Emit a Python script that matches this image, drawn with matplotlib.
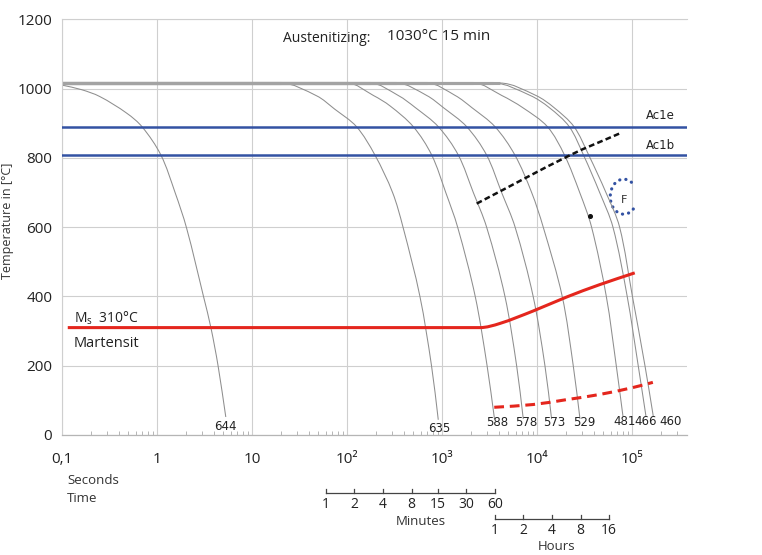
import math
import matplotlib
matplotlib.use("Agg")
import matplotlib.pyplot as plt
from matplotlib.patches import Arc, PathPatch
from matplotlib.path import Path
from matplotlib import transforms
from matplotlib.ticker import FixedLocator, LogLocator, NullFormatter

plt.rcParams['font.family'] = ['Open Sans', 'DejaVu Sans']
plt.rcParams['mathtext.fontset'] = 'custom'
plt.rcParams['mathtext.rm'] = 'Open Sans'
plt.rcParams['mathtext.it'] = 'Open Sans:italic'
plt.rcParams['mathtext.bf'] = 'Open Sans:bold'

# ---------------- data ----------------
curve_labels = ["644", "635", "588", "578", "573", "529", "481", "466", "460"]
PLATEAU_T = 1016

t_644 = [0.1, 0.16, 0.25, 0.48, 0.70, 1.1, 1.55, 2.05, 3.1, 3.7, 4.4, 5.3]
T_644 = [1010, 997, 977, 929, 889, 808, 700, 597, 398, 309, 199, 52]

t_635 = [0.1, 20, 48, 74, 126, 197, 302, 389, 586, 776, 914]
T_635 = [1016, 1016, 979, 941, 890, 808, 700, 600, 400, 200, 44]

t_588 = [0.1, 100, 190, 284, 499, 780, 1096, 1462, 2239, 2985, 3573]
T_588 = [1016, 1016, 980, 950, 890, 808, 700, 600, 400, 200, 46]

t_578 = [0.1, 174, 347, 525, 915, 1486, 2138, 2951, 4603, 6109, 7178]
T_578 = [1016, 1016, 980, 945, 890, 808, 700, 600, 400, 200, 46]

t_573 = [0.1, 331, 692, 1035, 1820, 2951, 4246, 5888, 9120, 12134, 14256]
T_573 = [1016, 1016, 980, 945, 890, 808, 700, 600, 400, 200, 46]

t_529 = [0.1, 692, 1380, 2065, 3614, 5861, 8790, 11641, 18450, 24099, 28379]
T_529 = [1016, 1016, 980, 945, 890, 808, 700, 600, 400, 200, 46]

t_481 = [0.1, 2138, 4266, 7079, 12882, 19498, 28184, 37584, 53703, 68391, 80353]
T_481 = [1016, 1016, 980, 945, 890, 808, 700, 600, 400, 200, 55]

t_466 = [0.1, 3467, 8511, 13490, 21878, 30903, 45709, 63096, 89125, 116413, 140281]
T_466 = [1016, 1016, 980, 945, 890, 808, 700, 600, 400, 200, 55]

t_460 = [0.1, 4074, 9772, 15136, 24547, 35075, 53211, 74131, 101158, 137088, 167494]
T_460 = [1016, 1016, 980, 945, 890, 808, 700, 600, 400, 200, 55]

curve_times = [t_644, t_635, t_588, t_578, t_573, t_529, t_481, t_466, t_460]
curve_temps = [T_644, T_635, T_588, T_578, T_573, T_529, T_481, T_466, T_460]

# label positions under the curve ends
label_t = [5.3, 929, 3790, 7650, 15100, 31300, 83400, 138700, 257000]
label_T = [24, 20, 35, 35, 35, 35, 38, 38, 38]

AC1E = 890
AC1B = 808

ms_t = [0.115, 2510, 4070, 9120, 20400, 45700, 107000]
ms_T = [310, 310, 322, 358, 398, 434, 468]

mf_t = [3550, 9120, 20400, 45700, 102300, 166000]
mf_T = [80, 88, 102, 117, 137, 152]

bainite_t = [2320, 22400, 73500]
bainite_T = [668, 808, 870]

ferrite_t, ferrite_T = 82000, 688
dot_t, dot_T = 36100, 632

xtick_vals = [0.1, 1, 10, 100, 1000, 1e4, 1e5]
xtick_text = ["0,1", "1", "10", "10²", "10³", "10⁴", "10⁵"]
ytick_vals = [0, 200, 400, 600, 800, 1000, 1200]

minutes = [1, 2, 4, 8, 15, 30, 60]
hours = [1, 2, 4, 8, 16]

# ---------------- helpers ----------------
SX, SY = 95.0, 0.3465   # screen-like scaling used only for smooth drawing


def smooth_path(t, T, flat_start=False):
    """Smooth (Bezier) path through the read points, drawn on the log axis."""
    X = [SX * math.log10(v) for v in t]
    Y = [SY * v for v in T]
    n = len(X)
    u = [0.0]
    for i in range(1, n):
        u.append(u[-1] + math.hypot(X[i] - X[i - 1], Y[i] - Y[i - 1]))
    mx, my = [0.0] * n, [0.0] * n
    for i in range(n):
        if flat_start and i <= 1:
            mx[i], my[i] = 1.0, 0.0
        elif i == 0:
            h = u[1] - u[0]
            mx[i], my[i] = (X[1] - X[0]) / h, (Y[1] - Y[0]) / h
        elif i == n - 1:
            h = u[i] - u[i - 1]
            mx[i], my[i] = (X[i] - X[i - 1]) / h, (Y[i] - Y[i - 1]) / h
        else:
            h = u[i + 1] - u[i - 1]
            mx[i], my[i] = (X[i + 1] - X[i - 1]) / h, (Y[i + 1] - Y[i - 1]) / h
    verts = [(X[0], Y[0])]
    codes = [Path.MOVETO]
    for i in range(n - 1):
        if flat_start and i == 0:
            verts.append((X[1], Y[1]))
            codes.append(Path.LINETO)
            continue
        h = u[i + 1] - u[i]
        verts += [(X[i] + mx[i] * h / 3, Y[i] + my[i] * h / 3),
                  (X[i + 1] - mx[i + 1] * h / 3, Y[i + 1] - my[i + 1] * h / 3),
                  (X[i + 1], Y[i + 1])]
        codes += [Path.CURVE4] * 3
    verts = [(10 ** (x / SX), y / SY) for x, y in verts]
    return Path(verts, codes)


def add_smooth(ax, t, T, flat_start=False, **kw):
    p = PathPatch(smooth_path(t, T, flat_start), fill=False, **kw)
    ax.add_patch(p)
    return p


# ---------------- figure ----------------
fig = plt.figure(figsize=(7.62, 5.55), dpi=100)
ax = fig.add_axes([62 / 762, 120 / 555, (686.7 - 62) / 762, (435 - 19.3) / 555])
ax.set_xscale('log')
ax.set_xlim(0.1, 3.77e5)
ax.set_ylim(0, 1200)

grid_c = '#cfcfcf'
ax.xaxis.set_major_locator(FixedLocator(xtick_vals))
ax.xaxis.set_minor_locator(LogLocator(base=10, subs=range(2, 10), numticks=20))
ax.xaxis.set_minor_formatter(NullFormatter())
ax.set_xticks(xtick_vals)
ax.set_xticklabels(xtick_text)
ax.set_yticks(ytick_vals)
ax.grid(True, which='major', color=grid_c, lw=0.8)
ax.set_axisbelow(True)
ax.tick_params(axis='x', which='major', length=0, pad=12, labelsize=11, colors='#222')
ax.tick_params(axis='x', which='minor', length=3, direction='in', color='#aaaaaa', width=0.6)
ax.tick_params(axis='y', which='both', length=0, pad=7, labelsize=11, colors='#222')
for s in ['left', 'top']:
    ax.spines[s].set_color(grid_c)
    ax.spines[s].set_linewidth(0.8)
ax.spines['right'].set_visible(False)
ax.spines['bottom'].set_color('#b5b5b5')
ax.spines['bottom'].set_linewidth(0.9)

# cooling curves
gray = '#8e8e8e'
for t, T in zip(curve_times, curve_temps):
    flat = (T[0] == PLATEAU_T and T[1] == PLATEAU_T)
    add_smooth(ax, t, T, flat_start=flat, edgecolor=gray, lw=0.75, zorder=2)
    if flat:
        ax.plot(t[:2], T[:2], color='#a3a3a3', lw=2.2, solid_capstyle='butt', zorder=2)

for lab, lt, lT in zip(curve_labels, label_t, label_T):
    ax.text(lt, lT, lab, ha='center', va='center', fontsize=8.5,
            family='DejaVu Sans', color='#222')

# Ac lines
blue = '#3352a3'
ax.axhline(AC1E, color=blue, lw=1.8, zorder=3)
ax.axhline(AC1B, color=blue, lw=1.8, zorder=3)
ax.text(2.0e5, 922, "Ac1e", ha='center', va='center', fontsize=8.5, family='DejaVu Sans', color='#222')
ax.text(2.0e5, 836, "Ac1b", ha='center', va='center', fontsize=8.5, family='DejaVu Sans', color='#222')

# Ms and Mf lines
red = '#e4261d'
add_smooth(ax, ms_t, ms_T, flat_start=True, edgecolor=red, lw=2.2, zorder=4, capstyle='butt')
add_smooth(ax, mf_t, mf_T, edgecolor=red, lw=2.2, zorder=4, linestyle=(0, (3.2, 1.9)))

# bainite start (black dashed)
add_smooth(ax, bainite_t, bainite_T, edgecolor='#111111', lw=1.8, zorder=4,
           linestyle=(0, (2.3, 1.3)))

# ferrite region marker
arc_tr = fig.dpi_scale_trans + transforms.ScaledTranslation(ferrite_t, ferrite_T, ax.transData)
arc = Arc((0, 0), width=0.27, height=0.35, theta1=62, theta2=322, transform=arc_tr,
          color='#3352a3', lw=2.3, linestyle=(0, (0.05, 1.9)))
arc.set_capstyle('round')
ax.add_patch(arc)
ax.text(ferrite_t, ferrite_T - 10, "F", ha='center', va='center', fontsize=8,
        family='DejaVu Sans', color='#333')
ax.plot([dot_t], [dot_T], 'o', ms=2.6, color='#111', zorder=5)

# texts
ax.text(0.133, 337, "M$_\\mathregular{s}$  310°C", ha='left', va='center', fontsize=10, color='#222')
ax.text(0.131, 263, "Martensit", ha='left', va='center', fontsize=10.5, color='#222')
fig.text(283 / 762, 1 - 38 / 555, "Austenitizing:", ha='left', va='center', fontsize=10, color='#222')
fig.text(387 / 762, 1 - 37 / 555, "1030°C 15 min", ha='left', va='center', fontsize=11, color='#222')
fig.text(8 / 762, 1 - 221 / 555, "Temperature in [°C]", rotation=90, ha='center', va='center',
         fontsize=9, color='#333')
fig.text(67 / 762, 1 - 481 / 555, "Seconds", ha='left', va='center', fontsize=9.5, color='#333')
fig.text(67 / 762, 1 - 498 / 555, "Time", ha='left', va='center', fontsize=9.5, color='#333')

# minutes / hours scales
trans = transforms.blended_transform_factory(ax.transData, ax.transAxes)
ah = 435 - 19.3


def frac(ypix):
    return (435 - ypix) / ah


sc = '#444444'
y_m = frac(493.3)
tk = 4.5 / ah
min_t = [m * 60 for m in minutes]
ax.plot([min_t[0], min_t[-1]], [y_m, y_m], transform=trans, clip_on=False, color=sc, lw=0.9)
for tt, m in zip(min_t, minutes):
    ax.plot([tt, tt], [y_m, y_m + tk], transform=trans, clip_on=False, color=sc, lw=0.9)
    ax.text(tt, frac(504.5), str(m), transform=trans, ha='center', va='center', fontsize=10, color='#222')
ax.text(600, frac(521.5), "Minutes", transform=trans, ha='center', va='center', fontsize=9.5, color='#333')

y_h = frac(519.3)
hr_t = [h * 3600 for h in hours]
ax.plot([hr_t[0], hr_t[-1]], [y_h, y_h], transform=trans, clip_on=False, color=sc, lw=0.9)
for tt, h in zip(hr_t, hours):
    ax.plot([tt, tt], [y_h, y_h + tk], transform=trans, clip_on=False, color=sc, lw=0.9)
    ax.text(tt, frac(530.5), str(h), transform=trans, ha='center', va='center', fontsize=10, color='#222')
ax.text(4.5 * 3600, frac(546), "Hours", transform=trans, ha='center', va='center', fontsize=9.5, color='#333')

fig.savefig("out.png", dpi=100)
